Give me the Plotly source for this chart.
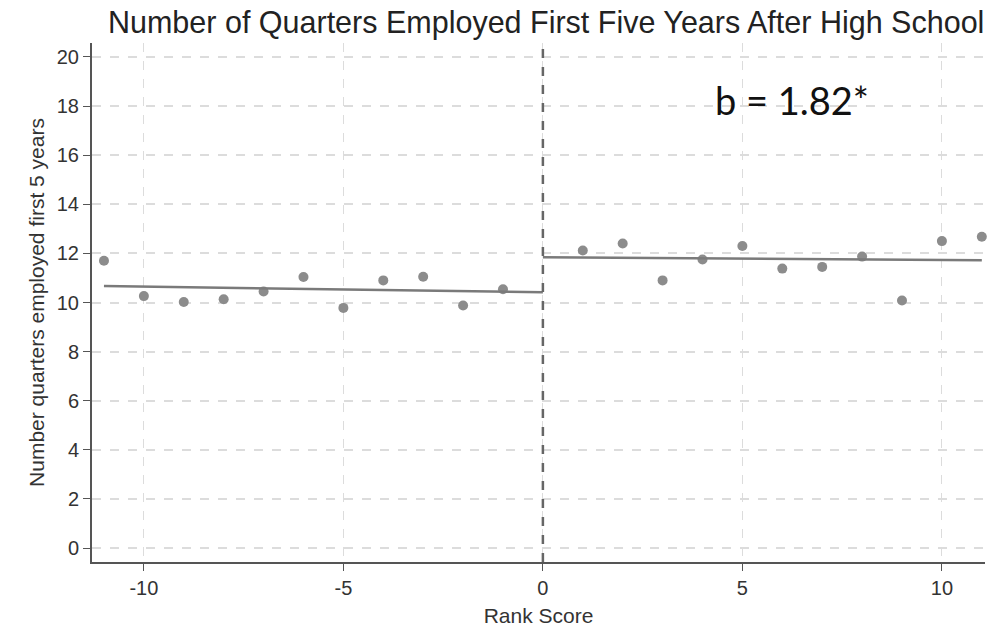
import plotly.graph_objects as go

# Binned means, below and above the cutoff
rank_left = [-11, -10, -9, -8, -7, -6, -5, -4, -3, -2, -1]
quarters_left = [11.7, 10.26, 10.02, 10.13, 10.45, 11.04, 9.78, 10.9, 11.05, 9.88, 10.54]
rank_right = [1, 2, 3, 4, 5, 6, 7, 8, 9, 10, 11]
quarters_right = [12.12, 12.4, 10.9, 11.75, 12.3, 11.38, 11.45, 11.87, 10.08, 12.5, 12.68]

# Fitted line endpoints on each side
fit_left_x = [-11, 0]
fit_left_y = [10.67, 10.42]
fit_right_x = [0, 11]
fit_right_y = [11.84, 11.72]

x_ticks = [-10, -5, 0, 5, 10]
y_ticks = [0, 2, 4, 6, 8, 10, 12, 14, 16, 18, 20]
annotation_text = "b = 1.82*"

GRID = "#dcdcdc"
AXIS = "#555555"
TEXT = "#333333"
MARK = "#8c8c8c"
LINE = "#7a7a7a"

fig = go.Figure()

for xs, ys in [(rank_left, quarters_left), (rank_right, quarters_right)]:
    fig.add_trace(go.Scatter(
        x=xs, y=ys, mode="markers", cliponaxis=False,
        marker=dict(color=MARK, size=10, line=dict(width=0)),
        showlegend=False, hoverinfo="skip",
    ))

for xs, ys in [(fit_left_x, fit_left_y), (fit_right_x, fit_right_y)]:
    fig.add_trace(go.Scatter(
        x=xs, y=ys, mode="lines", cliponaxis=False,
        line=dict(color=LINE, width=2.5),
        showlegend=False, hoverinfo="skip",
    ))

# cutoff
fig.add_shape(type="line", xref="x", yref="paper", x0=0, x1=0, y0=0, y1=1,
              line=dict(color="#666666", width=2.5, dash="dash"))

fig.add_annotation(
    x=0.784, y=0.89, xref="paper", yref="paper", text=annotation_text,
    showarrow=False, xanchor="center", yanchor="middle",
    font=dict(family="Lato, Open Sans, sans-serif", size=38, color="#111111"),
)

fig.update_layout(
    width=1004, height=635,
    paper_bgcolor="white", plot_bgcolor="white",
    margin=dict(l=92, r=19, t=43, b=73),
    title=dict(
        text="Number of Quarters Employed First Five Years After High School",
        x=0.544, xanchor="center", y=0.965, yanchor="middle",
        font=dict(family="Liberation Sans, Arial, sans-serif",
                  size=30.5, color="#222222"),
    ),
    font=dict(family="Liberation Sans, Arial, sans-serif", color=TEXT),
)

fig.update_xaxes(
    range=[-11.3, 11.08], tickvals=x_ticks, ticktext=[str(v) for v in x_ticks],
    showline=True, linecolor=AXIS, linewidth=2,
    ticks="outside", ticklen=7, tickcolor=AXIS,
    showgrid=True, gridcolor=GRID, griddash="dash", gridwidth=1,
    zeroline=False, tickfont=dict(size=20, color=TEXT),
    title=dict(text="Rank Score", font=dict(size=21, color=TEXT), standoff=10),
)
fig.update_yaxes(
    range=[-0.57, 20.57], tickvals=y_ticks, ticktext=[str(v) for v in y_ticks],
    showline=True, linecolor=AXIS, linewidth=2,
    ticks="outside", ticklen=7, tickcolor=AXIS,
    showgrid=True, gridcolor=GRID, griddash="dash", gridwidth=1.5,
    zeroline=False, tickfont=dict(size=20, color=TEXT),
    title=dict(text="Number quarters employed first 5 years", font=dict(size=21, color=TEXT), standoff=6),
)

fig.write_html("out.html")
